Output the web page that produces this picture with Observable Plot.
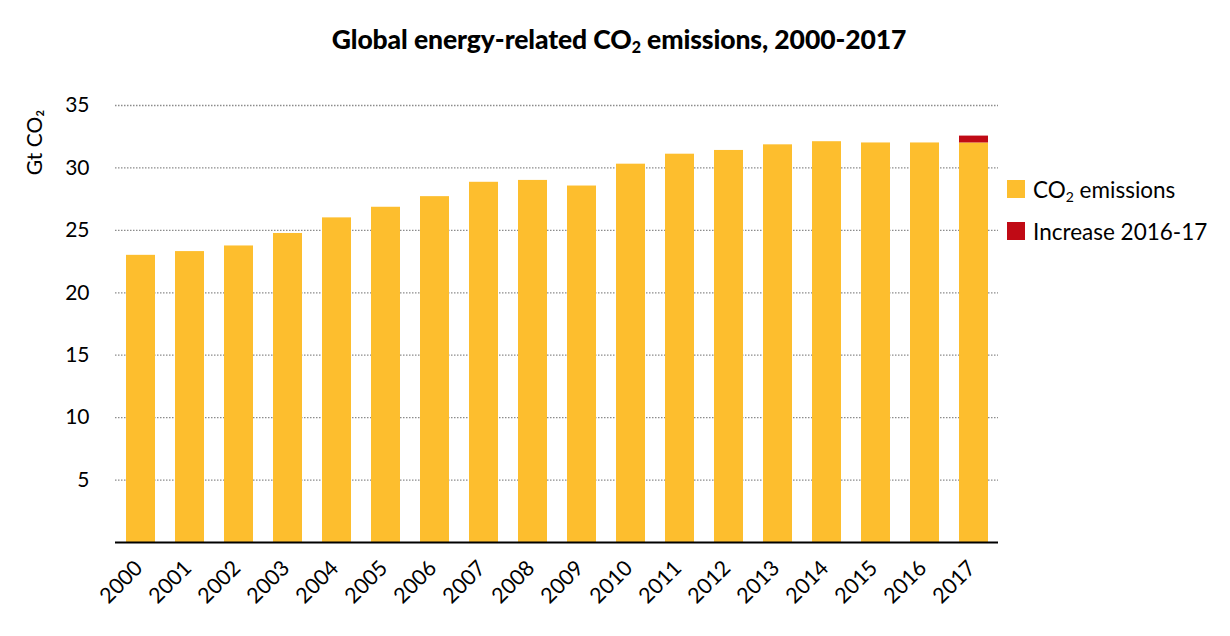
<!DOCTYPE html>
<html>
<head>
<meta charset="utf-8">
<script src="https://cdn.jsdelivr.net/npm/d3@7"></script>
<script src="https://cdn.jsdelivr.net/npm/@observablehq/plot@0.6"></script>
<style>
  html, body { margin: 0; padding: 0; background: #fff; }
  body { width: 1230px; height: 636px; overflow: hidden; font-family: Lato, "Open Sans", sans-serif; }
  #wrap { position: relative; width: 1230px; height: 636px; }
  #title { height: 62px; line-height: 78px; text-align: center; font-weight: 900; font-size: 26.5px; color: #000; padding-left: 8px; letter-spacing: -0.1px; }
  #title sub { font-size: 16px; vertical-align: -4px; line-height: 0; }
  #legend { position: absolute; left: 1007px; top: 176px; font-size: 22.5px; color: #000; }
  .item { display: flex; align-items: center; height: 26px; margin-bottom: 16px; }
  .sw { width: 18px; height: 18px; margin-right: 8px; }
  .item sub { font-size: 14px; vertical-align: -4px; line-height: 0; }
</style>
</head>
<body>
<div id="wrap">
  <div id="title">Global energy-related CO<sub>2</sub> emissions, 2000-2017</div>
  <div id="chart"></div>
  <div id="legend"></div>
</div>
<script>
const years = ["2000","2001","2002","2003","2004","2005","2006","2007","2008","2009","2010","2011","2012","2013","2014","2015","2016","2017"];
const emissions = [23.0, 23.3, 23.75, 24.75, 26.0, 26.85, 27.7, 28.85, 29.0, 28.55, 30.3, 31.1, 31.4, 31.85, 32.1, 32.0, 32.0, 32.0];
const increase = [0, 0, 0, 0, 0, 0, 0, 0, 0, 0, 0, 0, 0, 0, 0, 0, 0, 0.55];
const seriesNames = ["CO₂ emissions", "Increase 2016-17"];
const seriesColors = ["#FDBE2E", "#C00A15"];
const yTicks = [5, 10, 15, 20, 25, 30, 35];

const rows = [];
years.forEach((y, i) => {
  rows.push({year: y, series: seriesNames[0], value: emissions[i]});
  rows.push({year: y, series: seriesNames[1], value: increase[i]});
});

const font = "Lato, 'Open Sans', sans-serif";

const chart = Plot.plot({
  width: 1230,
  height: 574,
  marginTop: 43,
  marginBottom: 94,
  marginLeft: 115,
  marginRight: 232,
  style: {fontFamily: font, fontSize: "20px", color: "#000", background: "#fff"},
  x: {domain: years, paddingInner: 0.41, paddingOuter: 0.18, label: null},
  y: {domain: [0, 35], ticks: yTicks, label: null},
  color: {domain: seriesNames, range: seriesColors},
  marks: [
    Plot.gridY(yTicks, {stroke: "#8c8c8c", strokeOpacity: 1, strokeDasharray: "1.5,1.5", strokeWidth: 1.3}),
    Plot.barY(rows, {x: "year", y: "value", fill: "series", order: seriesNames}),
    Plot.ruleY([0], {stroke: "#000", strokeWidth: 2}),
    Plot.axisY(yTicks, {tickSize: 0, tickPadding: 26, fontSize: 21, label: null}),
    Plot.axisX({tickSize: 0, tickRotate: -45, tickPadding: 22, dx: -2, fontSize: 21.5, label: null}),
    Plot.text(["Gt CO₂"], {frameAnchor: "top-left", dx: -88, dy: 37, rotate: -90, fontSize: 21, textAnchor: "middle"})
  ]
});
document.getElementById("chart").appendChild(chart);

const legend = document.getElementById("legend");
legend.innerHTML = seriesNames.map((s, i) => {
  const label = s === "CO₂ emissions" ? 'CO<sub>2</sub> emissions' : s;
  return `<div class="item"><div class="sw" style="background:${seriesColors[i]}"></div><span>${label}</span></div>`;
}).join("");
</script>
</body>
</html>
